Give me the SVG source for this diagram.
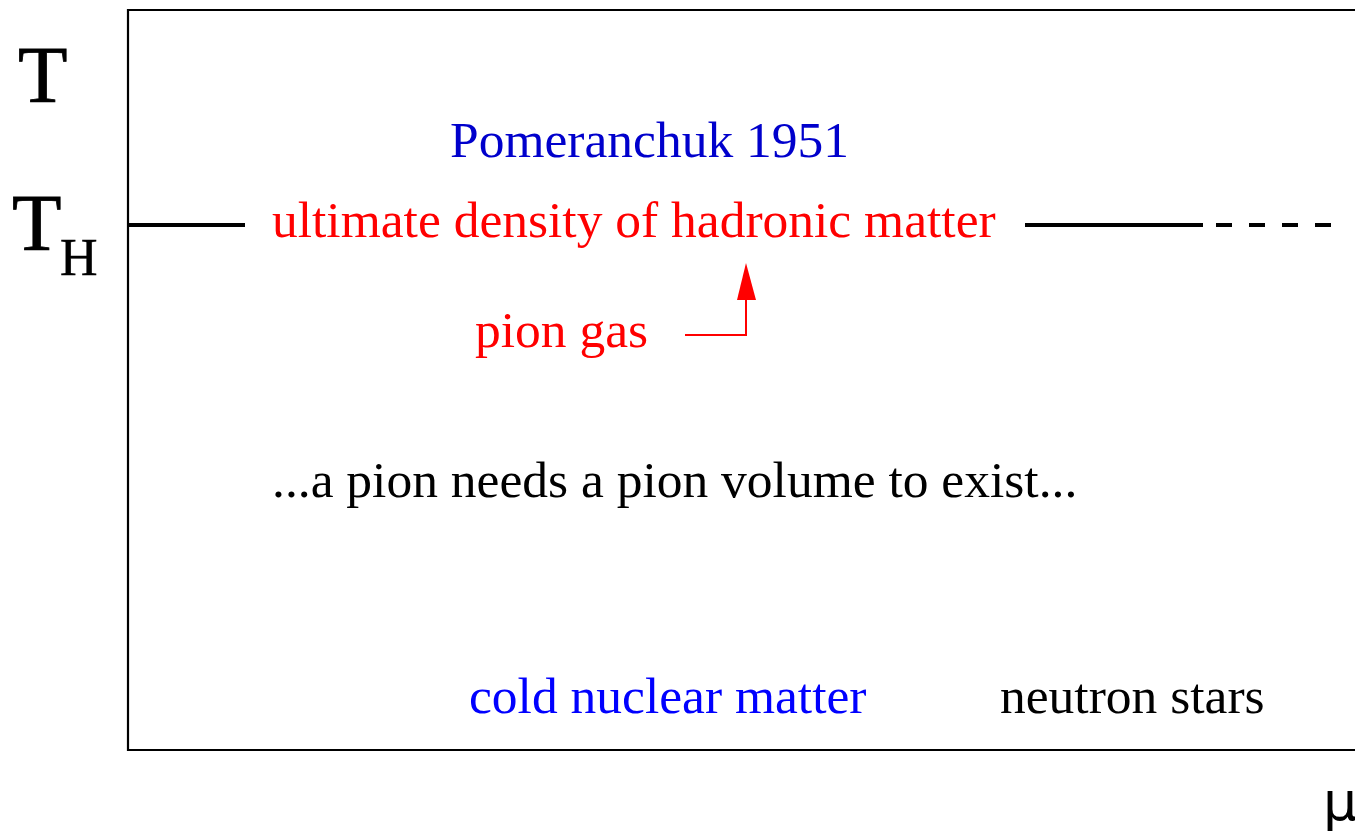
<svg xmlns="http://www.w3.org/2000/svg" width="1355" height="834" viewBox="0 0 1355 834">
<style>
text{font-family:"Liberation Serif","Times New Roman",serif;font-size:51.5px}
.red{fill:#ff0000}
.blue{fill:#0000ff}
.dblue{fill:#0000cc}
.blk{fill:#000}
.ax{stroke:#000;stroke-width:2.2;fill:none}
.th{stroke:#000;stroke-width:4;fill:none}
.big{font-size:81px;stroke:#000;stroke-width:0.8}
</style>
<rect width="1355" height="834" fill="#fff"/>
<g id="frame">
<path class="ax" d="M1360,10 H128 V750 H1360"/>
</g>
<g id="axis-labels">
<text class="big" x="18" y="102">T</text>
<text class="big" x="12" y="250">T</text>
<text x="60" y="275" style="font-size:52px;stroke:#000;stroke-width:0.5">H</text>
<text x="1323" y="820" style="font-size:54px;font-family:'DejaVu Sans',sans-serif">μ</text>
</g>
<g id="connectors">
<path class="th" d="M128,225 H245"/>
<path class="th" d="M1025,225 H1203"/>
<path class="th" d="M1216,225 H1336" stroke-dasharray="16 17"/>
<path d="M685,335 H746 V300" stroke="#ff0000" stroke-width="2" fill="none"/>
<path d="M737,300 L746,263 L756,300 Z" fill="#ff0000"/>
</g>
<g id="pomeranchuk"><text class="dblue" x="450" y="157">Pomeranchuk 1951</text></g>
<g id="ultimate"><text class="red" x="272" y="237">ultimate density of hadronic matter</text></g>
<g id="piongas"><text class="red" x="475" y="347">pion gas</text></g>
<g id="pionvolume"><text class="blk" x="272" y="497">...a pion needs a pion volume to exist...</text></g>
<g id="cold"><text class="blue" x="469" y="713">cold nuclear matter</text></g>
<g id="neutron"><text class="blk" x="1000" y="713">neutron stars</text></g>
</svg>
